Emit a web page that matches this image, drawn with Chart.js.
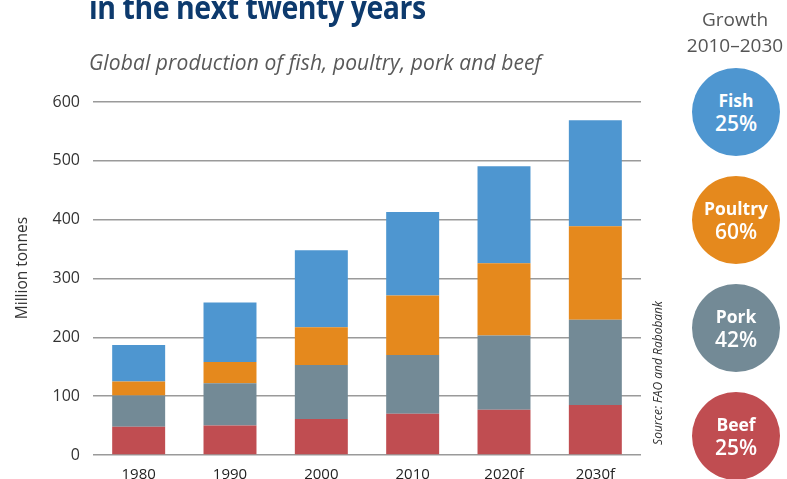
<!DOCTYPE html>
<html>
<head>
<meta charset="utf-8">
<script src="https://cdn.jsdelivr.net/npm/chart.js@4"></script>
<style>
  body { margin: 0; background: #fff; font-family: "Open Sans", sans-serif; }
  #wrap { position: relative; width: 787px; height: 479px; overflow: hidden; }
  #meatChart { position: absolute; left: 0; top: 0; }
  .txt { position: absolute; white-space: nowrap; }
  #title { left: 89px; top: -9px; font-size: 32px; line-height: 32px; font-weight: 700; color: #0d3a6d;
           letter-spacing: -0.5px; transform: scaleX(0.89); transform-origin: left top; }
  #subtitle { left: 89px; top: 52px; font-size: 21px; line-height: 21px; font-style: italic; color: #595959; letter-spacing: 0.1px; }
  #growth { left: 675px; width: 120px; top: 6px; font-size: 19px; line-height: 26px; color: #555; text-align: center; }
  .rot { position: absolute; width: 200px; text-align: center; transform: rotate(-90deg); white-space: nowrap; }
  #yTitle { left: -79px; top: 258px; font-size: 15.5px; line-height: 20px; color: #333; }
  #source { left: 558px; top: 364px; font-size: 12px; line-height: 18px; font-style: italic; color: #333; }
  .bubble { position: absolute; left: 692px; width: 88px; height: 88px; border-radius: 50%; color: #fff;
            display: flex; flex-direction: column; align-items: center; justify-content: center; font-weight: 700; }
  .bubble .name { font-size: 17.5px; line-height: 22px; }
  .bubble .pct { font-size: 21px; line-height: 25px; font-weight: 600; }
</style>
</head>
<body>
<div id="wrap">
  <canvas id="meatChart" width="787" height="479"></canvas>
  <div class="txt" id="title">in the next twenty years</div>
  <div class="txt" id="subtitle">Global production of fish, poultry, pork and beef</div>
  <div class="txt" id="growth">Growth<br>2010–2030</div>
  <div class="rot" id="yTitle">Million tonnes</div>
  <div class="rot" id="source">Source: FAO and Rabobank</div>
  <div id="bubbles"></div>
</div>
<script>
// million tonnes per year
const years = ['1980', '1990', '2000', '2010', '2020f', '2030f'];
const beef = [48, 50, 61, 70, 77, 85];
const pork = [53, 72, 92, 100, 126, 145];
const poultry = [24, 36, 64, 101, 123, 159];
const fish = [62, 101, 131, 142, 165, 180];

const yTicks = [0, 100, 200, 300, 400, 500, 600];

// growth 2010-2030, shown in the side circles
const growthNames = ['Fish', 'Poultry', 'Pork', 'Beef'];
const growthPct = ['25%', '60%', '42%', '25%'];

const colors = {
  Beef: '#c04d51',
  Pork: '#738a96',
  Poultry: '#e5891d',
  Fish: '#4e96d0'
};

function buildBubbles() {
  const holder = document.getElementById('bubbles');
  const tops = [68, 176, 284, 392];
  growthNames.forEach((name, i) => {
    const b = document.createElement('div');
    b.className = 'bubble';
    b.style.top = tops[i] + 'px';
    b.style.background = colors[name];
    b.innerHTML = `<div class="name">${name}</div><div class="pct">${growthPct[i]}</div>`;
    holder.appendChild(b);
  });
}

function drawChart() {
  const ctx = document.getElementById('meatChart').getContext('2d');
  const yFont = { family: '"Open Sans", sans-serif', size: 16 };
  const xFont = { family: '"Open Sans", sans-serif', size: 15 };

  new Chart(ctx, {
    type: 'bar',
    data: {
      labels: years,
      datasets: [
        { label: 'Beef', data: beef, backgroundColor: colors.Beef },
        { label: 'Pork', data: pork, backgroundColor: colors.Pork },
        { label: 'Poultry', data: poultry, backgroundColor: colors.Poultry },
        { label: 'Fish', data: fish, backgroundColor: colors.Fish },
      ]
    },
    options: {
      responsive: false,
      animation: false,
      devicePixelRatio: 1,
      barPercentage: 0.58,
      categoryPercentage: 1,
      layout: { padding: { top: 102, right: 146, left: 0, bottom: 0 } },
      plugins: {
        legend: { display: false },
        tooltip: { enabled: false }
      },
      scales: {
        x: {
          stacked: true,
          grid: { display: false },
          border: { display: false },
          ticks: { font: xFont, color: '#222', padding: 3 },
          afterFit: (scale) => { scale.height = 24; }
        },
        y: {
          stacked: true,
          min: 0,
          max: 600,
          afterBuildTicks: (scale) => { scale.ticks = yTicks.map(v => ({ value: v })); },
          grid: { color: '#9a9a9a', lineWidth: 1.6, drawTicks: false },
          border: { display: false },
          ticks: { font: yFont, color: '#333', padding: 13 },
          afterFit: (scale) => { scale.width = 93; }
        }
      }
    }
  });
}

document.addEventListener('DOMContentLoaded', () => {
  buildBubbles();
  drawChart();
});
</script>
</body>
</html>
